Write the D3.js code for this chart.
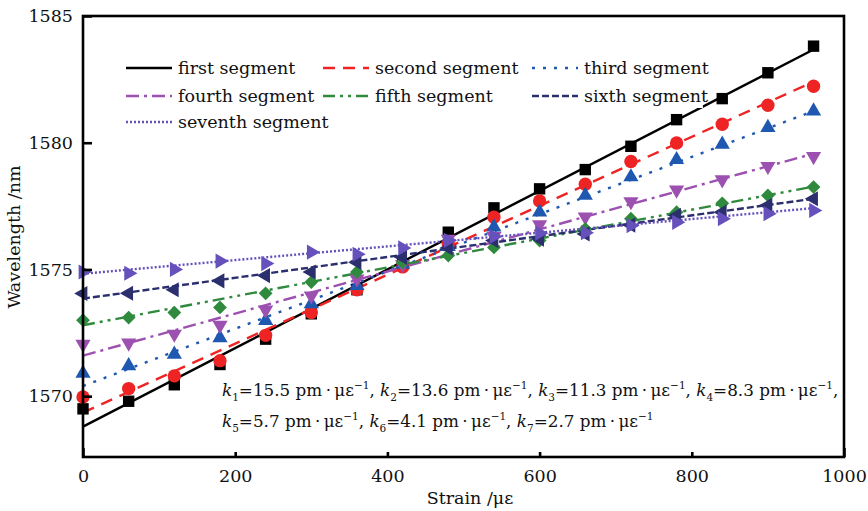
<!DOCTYPE html>
<html>
<head>
<meta charset="utf-8">
<script src="https://cdn.jsdelivr.net/npm/d3@7"></script>
<style>
  body { margin: 0; background: #fff; }
  text { font-family: "DejaVu Serif", serif; fill: #111; }
</style>
</head>
<body>
<div id="chart"></div>
<script>
// strain values (με)
const strain = [0, 60, 120, 180, 240, 300, 360, 420, 480, 540, 600, 660, 720, 780, 840, 900, 960];

const segNames = ["first segment", "second segment", "third segment", "fourth segment",
                  "fifth segment", "sixth segment", "seventh segment"];

// measured wavelengths (nm), one array per segment
const first   = [1569.5, 1569.8, 1570.45, 1571.25, 1572.25, 1573.25, 1574.2, 1575.2, 1576.47, 1577.43, 1578.18, 1578.94, 1579.86, 1580.91, 1581.74, 1582.76, 1583.81];
const second  = [1569.97, 1570.3, 1570.8, 1571.4, 1572.4, 1573.3, 1574.2, 1575.1, 1576.0, 1577.06, 1577.7, 1578.36, 1579.26, 1579.99, 1580.73, 1581.48, 1582.23];
const third   = [1570.9, 1571.2, 1571.65, 1572.3, 1572.98, 1573.64, 1574.36, 1575.2, 1575.9, 1576.67, 1577.26, 1577.92, 1578.65, 1579.33, 1579.94, 1580.6, 1581.25];
const fourth  = [1572.05, 1572.1, 1572.45, 1572.8, 1573.4, 1573.96, 1574.63, 1575.2, 1576.2, 1576.3, 1576.77, 1577.07, 1577.68, 1578.14, 1578.54, 1579.07, 1579.46];
const fifth   = [1573.0, 1573.1, 1573.3, 1573.5, 1574.06, 1574.5, 1574.9, 1575.28, 1575.55, 1575.87, 1576.14, 1576.6, 1577.0, 1577.26, 1577.61, 1577.92, 1578.25];
const sixth   = [1574.05, 1574.06, 1574.2, 1574.55, 1574.76, 1574.9, 1575.28, 1575.48, 1575.85, 1576.14, 1576.2, 1576.4, 1576.75, 1577.13, 1577.26, 1577.53, 1577.79];
const seventh = [1574.9, 1574.85, 1575.0, 1575.33, 1575.23, 1575.68, 1575.6, 1575.85, 1576.15, 1576.3, 1576.43, 1576.45, 1576.73, 1576.86, 1577.0, 1577.2, 1577.33];

// fitted lines: wavelength at strain 0 and at 960
const fitStart = [1568.8, 1569.35, 1570.4, 1571.6, 1572.8, 1573.85, 1574.83];
const fitEnd   = [1583.68, 1582.41, 1581.25, 1579.57, 1578.27, 1577.79, 1577.42];

const kValues = ["15.5", "13.6", "11.3", "8.3", "5.7", "4.1", "2.7"];

const xTicks = [0, 200, 400, 600, 800, 1000];
const yTicks = [1570, 1575, 1580, 1585];

const colors = ["#000000", "#ee2424", "#1f58b0", "#9c50b0", "#2f8a3e", "#2b2f6e", "#6650bc"];
const dashes = [null, "12,8", "3,8", "13,5,3,5", "12,5,3,5,3,5", "7,3", "2,2"];

const series = [first, second, third, fourth, fifth, sixth, seventh];

const width = 868, height = 511;
const svg = d3.select("#chart").append("svg")
    .attr("width", width).attr("height", height);

const x = d3.scaleLinear().domain([0, 1000]).range([83, 844]);
const y = d3.scaleLinear().domain([1567.6, 1585]).range([457, 16]);

// fit lines
const fitLine = d3.line().x(d => x(d[0])).y(d => y(d[1]));
series.forEach((s, i) => {
    svg.append("path")
        .datum([[0, fitStart[i]], [strain[strain.length - 1], fitEnd[i]]])
        .attr("d", fitLine)
        .attr("fill", "none")
        .attr("stroke", colors[i])
        .attr("stroke-width", 2.4)
        .attr("stroke-dasharray", dashes[i]);
});

// markers
const shapes = [
    {type: d3.symbolSquare, size: 130, rot: 0},
    {type: d3.symbolCircle, size: 140, rot: 0},
    {type: d3.symbolTriangle, size: 100, rot: 0},
    {type: d3.symbolTriangle, size: 100, rot: 180},
    {type: d3.symbolSquare, size: 95, rot: 45},
    {type: d3.symbolTriangle, size: 100, rot: -90},
    {type: d3.symbolTriangle, size: 100, rot: 90}
];
series.forEach((s, i) => {
    const sym = d3.symbol().type(shapes[i].type).size(shapes[i].size);
    svg.append("g").selectAll("path")
        .data(s)
        .enter().append("path")
        .attr("d", sym)
        .attr("fill", colors[i])
        .attr("transform", (d, j) => `translate(${x(strain[j])},${y(d)}) rotate(${shapes[i].rot})`);
});

// frame
svg.append("rect")
    .attr("x", x(0)).attr("y", y(1585))
    .attr("width", x(1000) - x(0)).attr("height", y(1567.6) - y(1585))
    .attr("fill", "none").attr("stroke", "#000").attr("stroke-width", 2.6);

// axes, ticks pointing inward
const xAxis = svg.append("g")
    .attr("transform", `translate(0,${y(1567.6)})`)
    .call(d3.axisBottom(x).tickValues(xTicks).tickFormat(d3.format("d"))
        .tickSizeInner(-9).tickSizeOuter(0).tickPadding(13));
const yAxis = svg.append("g")
    .attr("transform", `translate(${x(0)},0)`)
    .call(d3.axisLeft(y).tickValues(yTicks).tickFormat(d3.format("d"))
        .tickSizeInner(-9).tickSizeOuter(0).tickPadding(10));
[xAxis, yAxis].forEach(a => {
    a.select(".domain").remove();
    a.selectAll(".tick line").attr("stroke", "#000").attr("stroke-width", 2.6);
    a.selectAll(".tick text").style("font-family", "DejaVu Serif, serif").style("font-size", "17.5px").attr("fill", "#111");
});

// axis titles
svg.append("text")
    .attr("x", 470).attr("y", 504)
    .attr("text-anchor", "middle")
    .style("font-size", "17.5px")
    .text("Strain /με");
svg.append("text")
    .attr("transform", "translate(20,237) rotate(-90)")
    .attr("text-anchor", "middle")
    .style("font-size", "17.5px")
    .text("Wavelength /nm");

// legend
const legendPos = [[126, 68], [323, 68], [532, 68], [126, 96], [323, 96], [532, 96], [126, 122]];
segNames.forEach((name, i) => {
    const [lx, ly] = legendPos[i];
    svg.append("rect")
        .attr("x", lx + 50).attr("y", ly - 14)
        .attr("width", name.length * 9.3).attr("height", 26)
        .attr("fill", "#fff");
    svg.append("line")
        .attr("x1", lx).attr("x2", lx + 46)
        .attr("y1", ly).attr("y2", ly)
        .attr("stroke", colors[i]).attr("stroke-width", 2.4)
        .attr("stroke-dasharray", dashes[i]);
    svg.append("text")
        .attr("x", lx + 52).attr("y", ly + 6)
        .style("font-size", "17.5px")
        .text(name);
});

// slope annotation
svg.append("rect")
    .attr("x", 196).attr("y", 374).attr("width", 645).attr("height", 78).attr("fill", "#fff");
const annRows = [[0, 1, 2, 3], [4, 5, 6]];
annRows.forEach((row, r) => {
    const t = svg.append("text")
        .attr("x", 222).attr("y", 396 + r * 31)
        .style("font-size", "16.8px");
    row.forEach((k, n) => {
        t.append("tspan").style("font-style", "italic").text("k");
        t.append("tspan").attr("dy", 5).style("font-size", "10.5px").text(k + 1);
        t.append("tspan").attr("dy", -5).text("=" + kValues[k] + " pm\u2009·\u2009με");
        t.append("tspan").attr("dy", -7).style("font-size", "10.5px").text("−1");
        if (n < row.length - 1 || r === 0) {
            t.append("tspan").attr("dy", 7).text(", ");
        }
    });
});
</script>
</body>
</html>
